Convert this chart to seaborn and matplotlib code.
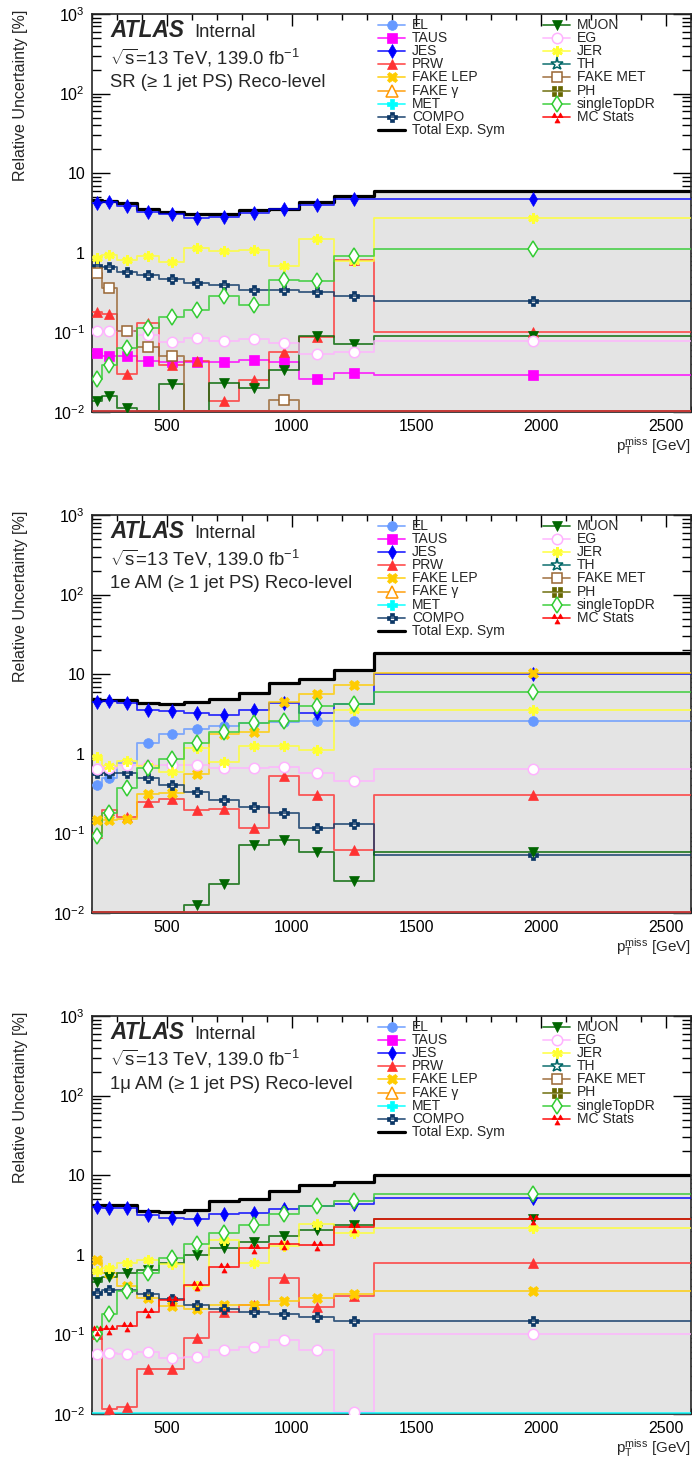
import numpy as np
import pandas as pd
import matplotlib
matplotlib.use("Agg")
import matplotlib.pyplot as plt
import seaborn as sns
from matplotlib.path import Path
from matplotlib.ticker import FixedLocator, FixedFormatter, LogLocator, MultipleLocator, NullFormatter

# ---------------------------------------------------------------- binning
BIN_EDGES = [200, 240, 300, 380, 470, 570, 670, 790, 910, 1030, 1170, 1330, 2600]

# ---------------------------------------------------------------- SR (>= 1 jet PS)
SR_TOTAL = [4.6, 4.5, 4.2, 3.5, 3.25, 3.1, 3.1, 3.4, 3.6, 4.4, 5.1, 5.9]
SR_JES = [4.2, 4.3, 3.85, 3.3, 3.1, 2.75, 2.8, 3.2, 3.5, 3.95, 4.75, 4.75]
SR_JER = [0.87, 0.95, 0.82, 0.91, 0.77, 1.15, 1.05, 1.1, 0.68, 1.47, 0.79, 2.75]
SR_COMPO = [0.69, 0.67, 0.57, 0.52, 0.47, 0.42, 0.39, 0.34, 0.34, 0.32, 0.29, 0.25]
SR_SINGLETOP = [0.026, 0.039, 0.063, 0.115, 0.157, 0.19, 0.29, 0.22, 0.46, 0.44, 0.91, 1.12]
SR_FAKE_MET = [0.56, 0.365, 0.105, 0.066, 0.050, 0, 0, 0, 0.014, 0, 0, 0]
SR_PRW = [0.178, 0.17, 0.030, 0.133, 0.039, 0.044, 0.0136, 0.025, 0.056, 0.087, 0.81, 0.10]
SR_MUON = [0.0136, 0.0158, 0.0112, 0, 0.0226, 0, 0.0234, 0.020, 0.034, 0.091, 0.071, 0.091]
SR_EG = [0.105, 0.105, 0.105, 0.093, 0.076, 0.084, 0.078, 0.083, 0.073, 0.054, 0.056, 0.078]
SR_TAUS = [0.055, 0.051, 0.050, 0.044, 0.043, 0.042, 0.0425, 0.045, 0.0425, 0.026, 0.031, 0.0295]
SR_MET = [0, 0, 0, 0, 0, 0, 0, 0, 0, 0, 0, 0]
SR_MC_STATS = [0, 0, 0, 0, 0, 0, 0, 0, 0, 0, 0, 0]

# ---------------------------------------------------------------- 1e AM
E_TOTAL = [4.8, 4.8, 4.8, 4.3, 4.2, 4.5, 4.95, 5.8, 7.8, 8.8, 11.2, 18.2]
E_JES = [4.5, 4.6, 4.4, 3.6, 3.4, 3.3, 3.05, 3.5, 4.3, 3.25, 4.2, 10.2]
E_EL = [0.41, 0.49, 0.76, 1.35, 1.77, 2.02, 2.25, 2.47, 2.52, 2.57, 2.57, 2.57]
E_FAKE_LEP = [0.147, 0.147, 0.153, 0.31, 0.32, 0.55, 1.75, 1.89, 4.5, 5.7, 7.3, 10.4]
E_SINGLETOP = [0.093, 0.18, 0.37, 0.66, 0.86, 1.35, 1.9, 2.45, 2.55, 3.97, 4.2, 6.0]
E_JER = [0.90, 0.70, 0.82, 0.70, 0.59, 1.17, 0.79, 1.25, 1.25, 1.13, 3.5, 3.5]
E_EG = [0.64, 0.67, 0.72, 0.72, 0.72, 0.72, 0.67, 0.67, 0.69, 0.58, 0.45, 0.65]
E_COMPO = [0.57, 0.57, 0.58, 0.49, 0.405, 0.33, 0.263, 0.217, 0.18, 0.116, 0.131, 0.053]
E_PRW = [0.102, 0.197, 0.16, 0.245, 0.27, 0.197, 0.205, 0.116, 0.53, 0.30, 0.062, 0.30]
E_MUON = [0, 0, 0, 0, 0, 0.0126, 0.023, 0.071, 0.083, 0.059, 0.025, 0.059]
E_MET = [0, 0, 0, 0, 0, 0, 0, 0, 0, 0, 0, 0]
E_MC_STATS = [0, 0, 0, 0, 0, 0, 0, 0, 0, 0, 0, 0]

# ---------------------------------------------------------------- 1mu AM
M_TOTAL = [4.2, 4.2, 4.2, 3.6, 3.45, 3.65, 4.75, 5.0, 6.3, 7.6, 8.15, 10.1]
M_JES = [3.98, 3.9, 3.9, 3.2, 2.92, 2.84, 3.27, 3.37, 3.8, 4.1, 4.3, 5.2]
M_SINGLETOP = [0.10, 0.178, 0.355, 0.59, 0.91, 1.36, 1.9, 2.4, 3.3, 4.1, 4.7, 5.75]
M_MUON = [0.46, 0.52, 0.59, 0.65, 0.78, 1.0, 1.2, 1.45, 1.7, 2.02, 2.4, 2.83]
M_MC_STATS = [0.113, 0.118, 0.127, 0.19, 0.27, 0.42, 0.71, 1.2, 1.35, 1.34, 2.24, 2.78]
M_JER = [0.62, 0.68, 0.79, 0.85, 0.77, 0.40, 1.55, 0.80, 1.3, 2.47, 1.88, 2.18]
M_FAKE_LEP = [0.87, 0.59, 0.40, 0.29, 0.225, 0.21, 0.235, 0.235, 0.26, 0.29, 0.32, 0.35]
M_COMPO = [0.335, 0.36, 0.36, 0.32, 0.28, 0.235, 0.21, 0.19, 0.183, 0.166, 0.147, 0.147]
M_PRW = [0.10, 0.0115, 0.0122, 0.037, 0.037, 0.089, 0.19, 0.235, 0.51, 0.22, 0.30, 0.80]
M_EG = [0.057, 0.058, 0.057, 0.06, 0.051, 0.052, 0.063, 0.069, 0.085, 0.063, 0.0105, 0.10]
M_MET = [0, 0, 0, 0, 0, 0, 0, 0, 0, 0, 0, 0]

REGION_LABELS = ["SR (\u2265 1 jet PS) Reco-level",
                 "1e AM (\u2265 1 jet PS) Reco-level",
                 "1\u03bc AM (\u2265 1 jet PS) Reco-level"]

LEGEND_COL1 = ["EL", "TAUS", "JES", "PRW", "FAKE LEP", "FAKE \u03b3", "MET", "COMPO", "Total Exp. Sym"]
LEGEND_COL2 = ["MUON", "EG", "JER", "TH", "FAKE MET", "PH", "singleTopDR", "MC Stats"]

regions = [
    dict(total=SR_TOTAL, series={"JES": SR_JES, "JER": SR_JER, "COMPO": SR_COMPO,
                                 "singleTopDR": SR_SINGLETOP, "FAKE MET": SR_FAKE_MET,
                                 "PRW": SR_PRW, "MUON": SR_MUON, "EG": SR_EG, "TAUS": SR_TAUS,
                                 "MET": SR_MET, "MC Stats": SR_MC_STATS}),
    dict(total=E_TOTAL, series={"EL": E_EL, "JES": E_JES, "PRW": E_PRW, "FAKE LEP": E_FAKE_LEP,
                                "COMPO": E_COMPO, "MUON": E_MUON, "EG": E_EG, "JER": E_JER,
                                "singleTopDR": E_SINGLETOP, "MET": E_MET, "MC Stats": E_MC_STATS}),
    dict(total=M_TOTAL, series={"JES": M_JES, "PRW": M_PRW, "FAKE LEP": M_FAKE_LEP,
                                "COMPO": M_COMPO, "MUON": M_MUON, "EG": M_EG, "JER": M_JER,
                                "singleTopDR": M_SINGLETOP, "MC Stats": M_MC_STATS, "MET": M_MET}),
]


# ---------------------------------------------------------------- marker shapes
def squares_path(centres, half):
    verts, codes = [], []
    for cx, cy in centres:
        verts += [(cx - half, cy - half), (cx + half, cy - half), (cx + half, cy + half),
                  (cx - half, cy + half), (cx - half, cy - half)]
        codes += [Path.MOVETO, Path.LINETO, Path.LINETO, Path.LINETO, Path.CLOSEPOLY]
    return Path(verts, codes)


def triangles_path(centres, h):
    verts, codes = [], []
    for cx, cy in centres:
        verts += [(cx - h, cy - h * 0.85), (cx + h, cy - h * 0.85), (cx, cy + h * 0.95),
                  (cx - h, cy - h * 0.85)]
        codes += [Path.MOVETO, Path.LINETO, Path.LINETO, Path.CLOSEPOLY]
    return Path(verts, codes)


FOUR_SQUARES_PLUS = squares_path([(0, 0.62), (0, -0.62), (0.62, 0), (-0.62, 0)], 0.3)
FOUR_SQUARES_X = squares_path([(0.4, 0.4), (-0.4, 0.4), (0.4, -0.4), (-0.4, -0.4)], 0.28)
TRIPLE_TRIANGLE = triangles_path([(-0.5, 0.35), (0.5, 0.35), (0.0, -0.55)], 0.42)

STYLE = {
    "EL": dict(color="#6699ff", marker="o", ms=7, open=False),
    "TAUS": dict(color="#ff00ff", marker="s", ms=6.8, open=False),
    "JES": dict(color="#0000ff", marker="d", ms=7.5, open=False),
    "PRW": dict(color="#ff3333", marker="^", ms=7.5, open=False),
    "FAKE LEP": dict(color="#ffcc00", marker="X", ms=7.8, open=False),
    "FAKE \u03b3": dict(color="#ff9900", marker="^", ms=8, open=True),
    "MET": dict(color="#00ffff", marker="P", ms=7.8, open=False),
    "COMPO": dict(color="#0c3766", marker=FOUR_SQUARES_PLUS, ms=7.5, open=False),
    "MUON": dict(color="#006600", marker="v", ms=7.5, open=False),
    "EG": dict(color="#ffb3ff", marker="o", ms=7.5, open=True),
    "JER": dict(color="#ffff33", marker=(6, 2, 0), ms=7.5, open=False),
    "TH": dict(color="#006666", marker="*", ms=9.5, open=True),
    "FAKE MET": dict(color="#996633", marker="s", ms=7.5, open=True),
    "PH": dict(color="#666600", marker=FOUR_SQUARES_X, ms=7, open=False),
    "singleTopDR": dict(color="#33cc33", marker="d", ms=7.8, open=True),
    "MC Stats": dict(color="#ff0000", marker=TRIPLE_TRIANGLE, ms=8, open=False),
}

DRAW_ORDER = ["EL", "TAUS", "JES", "PRW", "FAKE LEP", "FAKE \u03b3", "COMPO", "MUON", "EG",
              "JER", "TH", "FAKE MET", "PH", "singleTopDR", "MET", "MC Stats"]

Y_MIN, Y_MAX = 1e-2, 1e3
X_MIN, X_MAX = 200, 2600

# ---------------------------------------------------------------- style
sns.set_style("ticks")
plt.rcParams["font.family"] = ["Liberation Sans", "DejaVu Sans"]
plt.rcParams["mathtext.fontset"] = "custom"
plt.rcParams["mathtext.rm"] = "Liberation Sans"
plt.rcParams["mathtext.it"] = "Liberation Sans:italic"
plt.rcParams["mathtext.bf"] = "Liberation Sans:bold"
plt.rcParams["axes.linewidth"] = 1.2

FIG_W, FIG_H = 692, 1460
fig = plt.figure(figsize=(FIG_W / 100, FIG_H / 100), dpi=100)

AX_LEFT, AX_RIGHT = 92, 691
PANEL_TOPS = [14, 515, 1016]
PANEL_H = 398

edges = np.asarray(BIN_EDGES, dtype=float)
centres = 0.5 * (edges[:-1] + edges[1:])


def step_frame(values):
    v = np.asarray(values, dtype=float)
    v = np.where(v > 0, v, Y_MIN * 1.03)  # empty bins rest on the frame floor
    return pd.DataFrame({"x": edges, "y": np.append(v, v[-1])})


def marker_kw(st):
    kw = dict(marker=st["marker"], markersize=st["ms"], markeredgecolor=st["color"])
    if st["open"]:
        kw.update(markerfacecolor="white", markeredgewidth=1.1)
    else:
        kw.update(markerfacecolor=st["color"], markeredgewidth=0.5)
    if st["marker"] == (6, 2, 0):
        kw.update(markeredgewidth=2.0)
    return kw


for i, reg in enumerate(regions):
    top = PANEL_TOPS[i]
    rect = [AX_LEFT / FIG_W, 1 - (top + PANEL_H) / FIG_H,
            (AX_RIGHT - AX_LEFT) / FIG_W, PANEL_H / FIG_H]
    ax = fig.add_axes(rect)
    ax.set_yscale("log")

    # total envelope: grey band plus thick black step
    tot = step_frame(reg["total"])
    ax.fill_between(tot["x"], 1e-4, tot["y"], step="post", color="#e4e4e4", lw=0, zorder=1)
    sns.lineplot(data=tot, x="x", y="y", drawstyle="steps-post", color="black", lw=2.3,
                 estimator=None, sort=False, ax=ax, legend=False, zorder=3)

    for name in DRAW_ORDER:
        if name not in reg["series"]:
            continue
        vals = reg["series"][name]
        st = STYLE[name]
        sns.lineplot(data=step_frame(vals), x="x", y="y", drawstyle="steps-post",
                     color=st["color"], lw=1.3, alpha=0.8, estimator=None, sort=False,
                     ax=ax, legend=False, zorder=4)
        pts = pd.DataFrame({"x": centres, "y": np.asarray(vals, dtype=float)})
        pts = pts[pts["y"] > 0]
        if len(pts):
            sns.lineplot(data=pts, x="x", y="y", linestyle="", estimator=None, sort=False,
                         ax=ax, legend=False, zorder=5, color=st["color"], **marker_kw(st))

    ax.set_xlim(X_MIN, X_MAX)
    ax.set_ylim(Y_MIN, Y_MAX)
    ax.set_xlabel("")
    ax.set_ylabel("")
    ax.set_facecolor("white")

    # ticks, ROOT style: inward on all four sides
    ax.xaxis.set_major_locator(MultipleLocator(500))
    ax.xaxis.set_minor_locator(MultipleLocator(100))
    ax.yaxis.set_major_locator(FixedLocator([1e-2, 1e-1, 1, 10, 1e2, 1e3]))
    ax.yaxis.set_major_formatter(FixedFormatter(["$10^{-2}$", "$10^{-1}$", "1", "10",
                                                 "$10^{2}$", "$10^{3}$"]))
    ax.yaxis.set_minor_locator(LogLocator(base=10, subs=np.arange(2, 10), numticks=20))
    ax.yaxis.set_minor_formatter(NullFormatter())
    ax.tick_params(axis="both", which="both", direction="in", top=True, right=True,
                   labelsize=11.5, width=1.0, colors="black")
    ax.tick_params(axis="x", which="major", length=8.5, pad=5)
    ax.tick_params(axis="x", which="minor", length=4.3)
    ax.tick_params(axis="y", which="major", length=13, pad=5)
    ax.tick_params(axis="y", which="minor", length=6.5)
    for sp in ax.spines.values():
        sp.set_zorder(3.5)

    # axis titles
    ax.text(1.0, -39 / PANEL_H, r"p$_{\mathrm{T}}^{\mathrm{miss}}$ [GeV]", transform=ax.transAxes,
            ha="right", va="baseline", fontsize=11)
    ax.text(-0.120, 1.0 + 4 / PANEL_H, "Relative Uncertainty [%]", transform=ax.transAxes,
            rotation=90, ha="center", va="top", fontsize=11.5)

    # ATLAS label block
    ax.text(0.030, 1 - 23 / PANEL_H, "ATLAS", transform=ax.transAxes, fontsize=16.3,
            fontweight="bold", fontstyle="italic", va="baseline", ha="left", zorder=12)
    ax.text(0.170, 1 - 23 / PANEL_H, "Internal", transform=ax.transAxes, fontsize=13.3,
            va="baseline", ha="left", zorder=12)
    ax.text(0.030, 1 - 50 / PANEL_H, r"$\sqrt{\mathrm{s}}$=13 TeV, 139.0 fb$^{-1}$",
            transform=ax.transAxes, fontsize=13.3, va="baseline", ha="left", zorder=12)
    ax.text(0.030, 1 - 73 / PANEL_H, REGION_LABELS[i], transform=ax.transAxes, fontsize=13.3,
            va="baseline", ha="left", zorder=12)

    # legend, two columns
    row_h = 13.1 / PANEL_H
    y0 = 1 - 11 / PANEL_H
    for col, names in ((0, LEGEND_COL1), (1, LEGEND_COL2)):
        lx0 = (378 - AX_LEFT) / 599 if col == 0 else (543 - AX_LEFT) / 599
        lx1 = lx0 + 27 / 599
        tx = lx1 + 7 / 599
        for r, name in enumerate(names):
            yy = y0 - r * row_h
            if name == "Total Exp. Sym":
                ax.plot([lx0, lx1], [yy, yy], transform=ax.transAxes, color="black", lw=2.3,
                        clip_on=False, zorder=12)
            else:
                st = STYLE[name]
                ax.plot([lx0, lx1], [yy, yy], transform=ax.transAxes, color=st["color"],
                        lw=1.3, alpha=0.8, clip_on=False, zorder=12)
                ax.plot([(lx0 + lx1) / 2], [yy], transform=ax.transAxes, linestyle="",
                        clip_on=False, zorder=13, **marker_kw(st))
            ax.text(tx, yy, name, transform=ax.transAxes, fontsize=10, va="center",
                    ha="left", zorder=13)

fig.savefig("out.png", dpi=100, facecolor="white")
